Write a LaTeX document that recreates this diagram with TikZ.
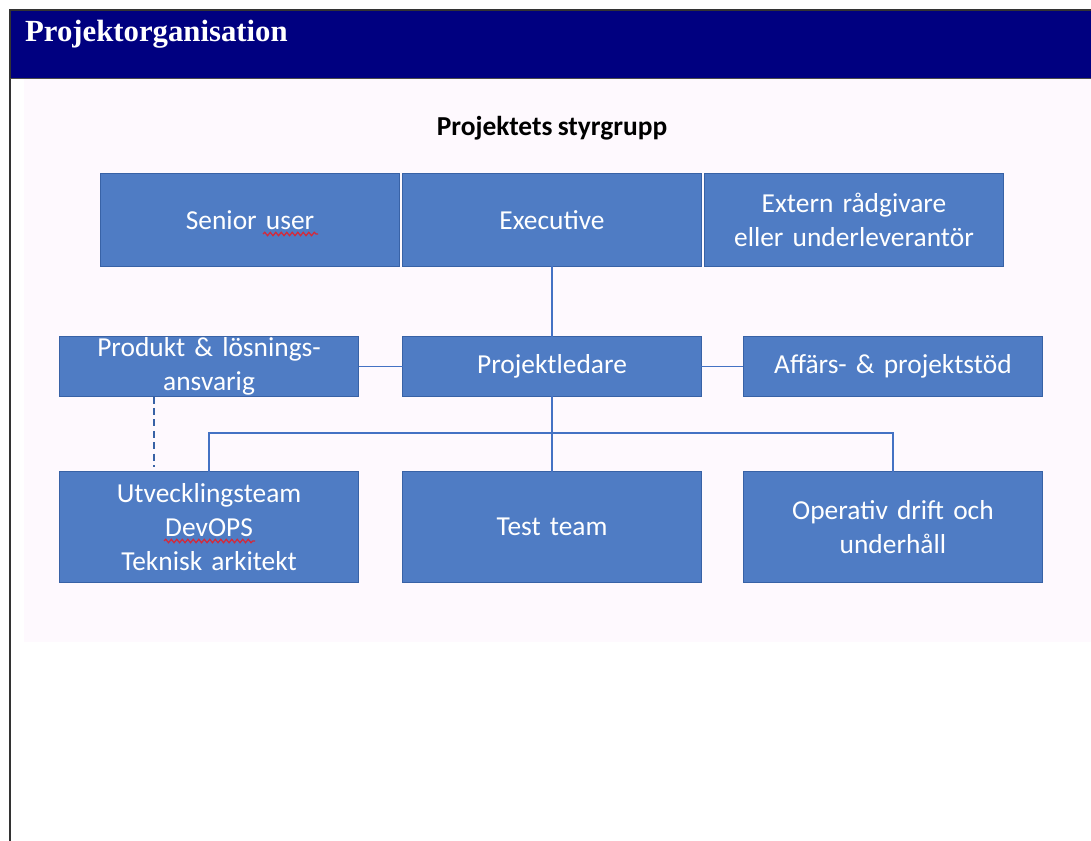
\documentclass[tikz,border=0pt]{standalone}
\usepackage{fontspec}
\setmainfont{Carlito}[WordSpace=0.85]
\newfontfamily\headfont{Liberation Serif}
\usetikzlibrary{positioning,decorations.pathmorphing}
\definecolor{barnavy}{HTML}{000080}
\definecolor{panelpink}{HTML}{FEF9FE}
\definecolor{boxblue}{HTML}{4F7CC4}
\definecolor{boxedge}{HTML}{3862A6}
\definecolor{linkblue}{HTML}{4472C4}
\definecolor{wavered}{HTML}{D42A3A}

\begin{document}
\begin{tikzpicture}[
		x=0.02cm, y=-0.02cm,
		box/.style={draw=boxedge, line width=0.8pt, fill=boxblue, text=white, font=\fontsize{15.6}{19.3}\selectfont, minimum width=5.98cm, text width=5.9cm, align=center, inner sep=0pt, outer sep=0pt},
		bigbox/.style={box, minimum height=1.86cm},
		midbox/.style={box, minimum height=1.2cm},
		lowbox/.style={box, minimum height=2.22cm},
		link/.style={draw=linkblue, line width=1.1pt},
		spell/.style={draw=wavered, line width=0.7pt, decorate, decoration={snake, segment length=0.11cm, amplitude=0.035cm}},
	]
		\useasboundingbox (0,0) rectangle (1091,841);
		\fill[white] (0,0) rectangle (1091,841);
		\fill[panelpink] (24,78) rectangle (1091,642);
		\fill[barnavy] (10,10) rectangle (1091,78);
		\draw[black!80, line width=0.8pt] (1091,10) -- (10,10) -- (10,841);
		\draw[black!70] (10,78) -- (1091,78);
		\node[anchor=west, text=white, font=\headfont\bfseries\fontsize{17.5}{20}\selectfont] (head) at (19,34) {Projektorganisation};

		\node[font=\bfseries\fontsize{15.6}{18}\selectfont] (styr) at (552,128) {Projektets styrgrupp};

		\node[bigbox] (exec) at (552,220) {Executive};
		\node[bigbox, left=0.06cm of exec] (senior) {Senior user};
		\node[bigbox, right=0.06cm of exec] (extern) {Extern rådgivare\\eller underleverantör};

		\node[midbox] (pl) at (552,366.5) {Projektledare};
		\node[midbox, left=0.88cm of pl] (prod) {Produkt \& lösnings-\\ansvarig};
		\node[midbox, right=0.84cm of pl] (affars) {Affärs- \& projektstöd};

		\node[lowbox] (test) at (552,527) {Test team};
		\node[lowbox, left=0.88cm of test] (utv) {Utvecklingsteam\\DevOPS\\Teknisk arkitekt};
		\node[lowbox, right=0.84cm of test] (oper) {Operativ drift och\\underhåll};

		\coordinate (bus) at (552,433);
		\draw[link] (exec) -- (pl);
		\draw[link] (prod) -- (pl);
		\draw[link] (pl) -- (affars);
		\draw[link] (pl) -- (test);
		\draw[link] (utv.north) |- (bus) -| (oper.north);
		\draw[draw=boxedge, line width=1.1pt, dash pattern=on 4pt off 2.5pt, shorten >=0.1cm] ([xshift=-1.1cm]prod.south) -- ([xshift=-1.1cm]utv.north);

		\draw[spell] ([shift={(13,14)}]senior.center) -- ++(55,0);
		\draw[spell] ([shift={(-45,14)}]utv.center) -- ++(91,0);
	\end{tikzpicture}
\end{document}
